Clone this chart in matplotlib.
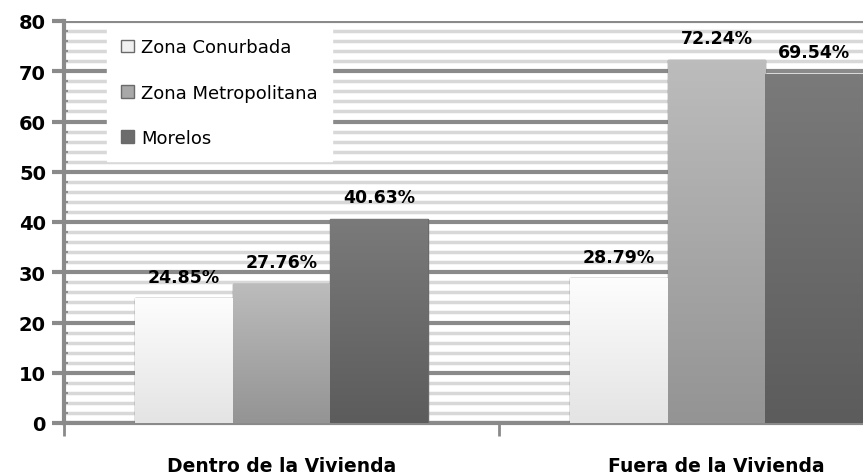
import numpy as np
from matplotlib import pyplot as plt
from matplotlib.patches import Patch
from matplotlib.colors import LinearSegmentedColormap

# data
categorias = ["Dentro de la Vivienda", "Fuera de la Vivienda"]
series = ["Zona Conurbada", "Zona Metropolitana", "Morelos"]
conurbada = [24.85, 28.79]
metropolitana = [27.76, 72.24]
morelos = [40.63, 69.54]
valores = [conurbada, metropolitana, morelos]

# top/bottom shades of each series gradient
tonos = [("#fdfdfd", "#e4e4e4"), ("#bcbcbc", "#949494"), ("#7a7a7a", "#5c5c5c")]
medio = ["#f0f0f0", "#a8a8a8", "#6c6c6c"]

fig = plt.figure(figsize=(8.63, 4.77), dpi=100)
ax = fig.add_axes([64/863, 53/477, (863-64)/863, (424-22)/477])

x = np.arange(len(categorias))
w = 0.224
grad = np.linspace(0, 1, 100).reshape(-1, 1)
for i, (nombre, vals) in enumerate(zip(series, valores)):
    pos = x + (i - 1) * w
    bars = ax.bar(pos, vals, w, color=medio[i], edgecolor="#6a6a6a",
                  linewidth=1, zorder=3, label=nombre)
    cmap = LinearSegmentedColormap.from_list("g%d" % i, [tonos[i][1], tonos[i][0]])
    for b in bars:
        x0, y0 = b.get_x(), b.get_y()
        im = ax.imshow(grad, cmap=cmap, aspect="auto", origin="lower",
                       extent=[x0, x0 + b.get_width(), y0, y0 + b.get_height()],
                       zorder=3.5)
        im.set_clip_path(b)
        ax.annotate("%.2f%%" % b.get_height(), (x0 + b.get_width()/2, b.get_height()),
                    xytext=(0, 9), textcoords="offset points", ha="center",
                    va="bottom", fontsize=12.5, fontweight="bold", zorder=5)

ax.set_yticks(np.arange(0, 81, 10))
ax.set_yticks(np.arange(0, 81, 2), minor=True)
ax.grid(axis="y", which="major", color="#8a8a8a", linewidth=3, zorder=1)
ax.grid(axis="y", which="minor", color="#d8d8d8", linewidth=2.5, zorder=0.5)
ax.set_axisbelow(True)

ax.set_xticks([-0.5, 0.5, 1.5])
ax.set_xticklabels([])
ax.set_xticks(x, minor=True)
ax.set_xticklabels(categorias, minor=True, fontsize=13.5, fontweight="bold")
ax.tick_params(axis="x", which="minor", length=0, pad=24)
ax.tick_params(axis="x", which="major", length=9, width=2, color="#8a8a8a")
ax.tick_params(axis="y", which="major", length=9, width=3, color="#8a8a8a",
               labelsize=14, pad=4)
ax.tick_params(axis="y", which="minor", length=3, width=1.5, color="#8a8a8a",
               direction="in")
for t in ax.get_yticklabels():
    t.set_fontweight("bold")

# the plot runs past the right edge of the figure
ax.set_xlim(-0.5, 1.5 - (934 - 863) / 434)
ax.set_ylim(0, 80)

for s in ["top", "right"]:
    ax.spines[s].set_visible(False)
for s in ["left", "bottom"]:
    ax.spines[s].set_color("#8a8a8a")
    ax.spines[s].set_linewidth(3)

handles = [Patch(facecolor=medio[i], edgecolor="#6a6a6a", label=series[i])
           for i in range(3)]
leg = ax.legend(handles=handles, loc="upper left",
                bbox_to_anchor=((107-64)/799, 1 - 3/402),
                fontsize=13, frameon=True, fancybox=False,
                handlelength=0.7, handleheight=0.7, handletextpad=0.4,
                labelspacing=1.5, borderpad=0.8, borderaxespad=0)
leg.get_frame().set_facecolor("white")
leg.get_frame().set_edgecolor("white")
leg.get_frame().set_alpha(1)
leg.set_zorder(6)

plt.savefig("out.png", dpi=100)
